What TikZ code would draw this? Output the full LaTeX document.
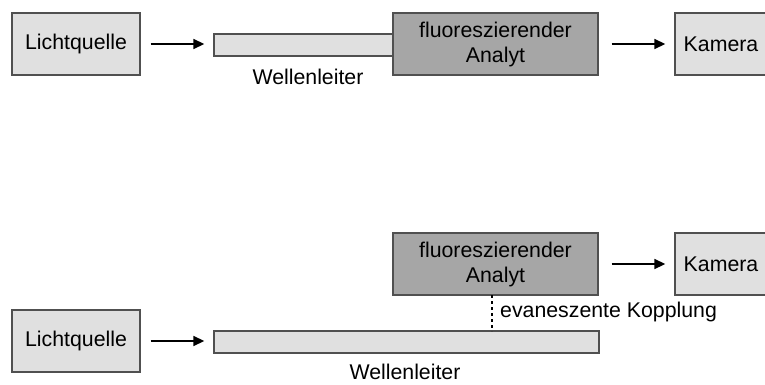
\documentclass[tikz,border=0pt]{standalone}
\usepackage{fontspec}
\setmainfont{Liberation Sans}
\usetikzlibrary{arrows.meta}
\definecolor{boxline}{HTML}{505050}
\definecolor{lightfill}{HTML}{E0E0E0}
\definecolor{darkfill}{HTML}{A6A6A6}
\begin{document}
\begin{tikzpicture}[x=1pt,y=-1pt,
  font=\fontsize{21.3}{25}\selectfont,
  box/.style={draw=boxline,line width=1.4pt,fill=lightfill,inner sep=0pt,align=center,minimum height=62pt},
  darkbox/.style={box,fill=darkfill},
  guide/.style={draw=boxline,line width=1.4pt,fill=lightfill,inner sep=0pt,minimum height=22pt},
  flow/.style={-{Triangle[length=11pt,width=10pt]},line width=1.7pt,black},
  lbl/.style={inner sep=0pt}]
\useasboundingbox (0,0) rectangle (765,385);
% top row
\node[box,minimum width=128pt] (lq1) at (76,44) {Lichtquelle};
\node[guide,minimum width=179pt] (wg1) at (303.5,45) {};
\node[darkbox,minimum width=205pt] (an1) at (495.5,44) {fluoreszierender\\Analyt};
\node[box,minimum width=95pt] (ka1) at (722.5,44) {Kamera\hspace*{3pt}};
\node[lbl] (wl1) at (308,77) {Wellenleiter};
\draw[flow,shorten <=10pt,shorten >=9pt] (lq1.east) -- (lq1.east -| wg1.west);
\draw[flow,shorten <=13pt,shorten >=9pt] (an1.east) -- (ka1.west);
% bottom row
\node[darkbox,minimum width=205pt] (an2) at (495.5,264) {fluoreszierender\\Analyt};
\node[box,minimum width=95pt] (ka2) at (722.5,264) {Kamera\hspace*{3pt}};
\node[box,minimum width=128pt] (lq2) at (76,341) {Lichtquelle};
\node[guide,minimum width=385pt] (wg2) at (406.5,342) {};
\node[lbl] (wl2) at (405,372) {Wellenleiter};
\coordinate (dtop) at (492,295);
\coordinate (dbot) at (492,331);
\draw[line width=1.5pt,black,dash pattern=on 3pt off 3pt] (dtop) -- (dbot);
\node[lbl,anchor=west] (ev) at (500,312) {evaneszente Kopplung};
\draw[flow,shorten <=13pt,shorten >=9pt] (an2.east) -- (ka2.west);
\draw[flow,shorten <=10pt,shorten >=9pt] (lq2.east) -- (lq2.east -| wg2.west);
\end{tikzpicture}
\end{document}
